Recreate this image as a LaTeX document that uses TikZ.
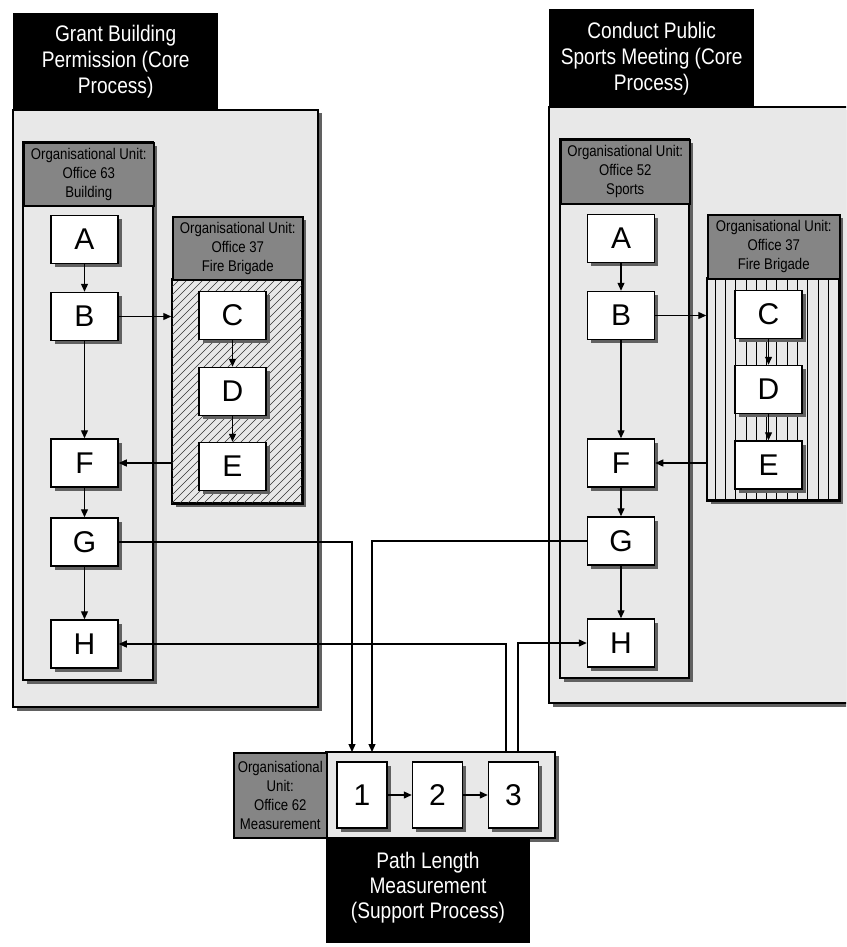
\documentclass[tikz,border=0pt]{standalone}
\usepackage{fontspec}
\setmainfont{Liberation Sans}
\newfontfamily\narrowf[FakeStretch=0.85]{Liberation Sans}
\usetikzlibrary{arrows.meta,shadows}
\definecolor{panelgray}{gray}{0.91}
\definecolor{unitgray}{gray}{0.52}
\definecolor{shadowgray}{gray}{0.38}
\tikzset{
  shd/.style={drop shadow={shadow xshift=3.5pt,shadow yshift=-3.5pt,fill=shadowgray,opacity=1}},
  panelbox/.style={draw=black,line width=1.6pt,fill=panelgray,shd},
  hdrbox/.style={fill=black,text=white,align=center,inner sep=0pt,anchor=north west,
    font=\narrowf\fontsize{22.5}{26}\selectfont},
  unithdr/.style={draw=black,line width=1.5pt,fill=unitgray,align=center,inner sep=0pt,
    anchor=north west,font=\narrowf\fontsize{15.5}{19}\selectfont},
  lanebox/.style={draw=black,line width=1.5pt,fill=panelgray,shd},
  procbox/.style={draw=black,line width=1.5pt,fill=white,minimum width=67pt,minimum height=48pt,
    inner sep=0pt,font=\fontsize{30}{30}\selectfont,shd},
  numbox/.style={draw=black,line width=1.5pt,fill=white,minimum width=50pt,minimum height=66pt,
    inner sep=0pt,font=\fontsize{30}{30}\selectfont,shd},
  areabox/.style={draw=black,line width=1.5pt,inner sep=0pt},
  hatchline/.style={black!80,line width=0.65pt},
  vline/.style={black,line width=0.8pt},
  conn/.style={line width=1.3pt,-{Triangle[length=8pt,width=7pt]}}
}
\begin{document}
\begin{tikzpicture}[x=1pt,y=-1pt]
\clip (0,0) rectangle (846,947);

% ---------------- Left panel ----------------
\path[panelbox] (13,110) rectangle (318,707);
\node[hdrbox,minimum width=205pt,minimum height=97pt] (hdrL) at (13,13)
  {Grant Building\\Permission (Core\\Process)};

% unit Office 63
\path[lanebox] (23,142) rectangle (153,680);
\node[unithdr,minimum width=130pt,minimum height=63pt] (uL) at (23,142)
  {Organisational Unit:\\Office 63\\Building};

% unit Office 37 (hatched)
\path[shd,fill=panelgray] (172,216) rectangle (302,503);
\node[areabox,fill=panelgray,minimum width=130pt,minimum height=224pt] (hL) at (237,391) {};
\begin{scope}
  \clip (hL.south west) rectangle (hL.north east);
  \foreach \s in {-232,-224,...,136} {
    \draw[hatchline] (172+\s,503) -- ++(240,-240);
  }
\end{scope}
\draw[line width=1.5pt] (hL.south west) rectangle (hL.north east);
\node[unithdr,minimum width=130pt,minimum height=63pt] (fL) at (172,216)
  {Organisational Unit:\\Office 37\\Fire Brigade};

\node[procbox] (Al) at (84.5,239.5) {A};
\node[procbox] (Bl) at (84.5,316.5) {B};
\node[procbox] (Fl) at (84.5,463) {F};
\node[procbox] (Gl) at (84.5,542) {G};
\node[procbox] (Hl) at (84.5,644) {H};
\node[procbox] (Cl) at (232.5,315.5) {C};
\node[procbox] (Dl) at (232.5,391.5) {D};
\node[procbox] (El) at (232.5,466.5) {E};

% ---------------- Right panel ----------------
\path[panelbox] (549,107) rectangle (880,703);
\node[hdrbox,minimum width=205pt,minimum height=98pt] (hdrR) at (549,9)
  {Conduct Public\\Sports Meeting (Core\\Process)};

\path[lanebox] (560,139) rectangle (689,678);
\node[unithdr,minimum width=129pt,minimum height=64pt] (uR) at (560,139)
  {Organisational Unit:\\Office 52\\Sports};

\path[shd,fill=panelgray] (707,214) rectangle (839,500);
\node[areabox,fill=panelgray,minimum width=132pt,minimum height=222pt] (hR) at (773,389) {};
\begin{scope}
  \clip (hR.south west) rectangle (hR.north east);
  \foreach \k in {0,...,11} {
    \draw[vline] (715+10.3*\k,278) -- (715+10.3*\k,500);
  }
\end{scope}
\draw[line width=1.5pt] (hR.south west) rectangle (hR.north east);
\node[unithdr,minimum width=132pt,minimum height=64pt] (fR) at (707,214)
  {Organisational Unit:\\Office 37\\Fire Brigade};

\node[procbox] (Ar) at (621,238.5) {A};
\node[procbox] (Br) at (621,315.5) {B};
\node[procbox] (Fr) at (621,463) {F};
\node[procbox] (Gr) at (621,541) {G};
\node[procbox] (Hr) at (621,643) {H};
\node[procbox] (Cr) at (768.5,314.5) {C};
\node[procbox] (Dr) at (768.5,389.5) {D};
\node[procbox] (Er) at (768.5,465) {E};

% ---------------- Measurement ----------------
\node[draw=black,line width=1.5pt,fill=panelgray,minimum width=229pt,minimum height=86pt,
  inner sep=0pt,shd] (mP) at (440.5,795) {};
\node[unithdr,minimum width=93pt,minimum height=85pt] (mU) at (233,752)
  {Organisational\\Unit:\\Office 62\\Measurement};
\node[fill=black,minimum width=204pt,minimum height=105pt,inner sep=0pt,anchor=north west] (mH) at (326,838) {};
\node[text=white,align=center,font=\narrowf\fontsize{22.5}{25}\selectfont] (mHt) at (428,888)
  {Path Length\\Measurement\\(Support Process)};

\node[numbox] (n1) at (362,795) {1};
\node[numbox] (n2) at (437.5,795) {2};
\node[numbox] (n3) at (513.5,795) {3};

\coordinate (mIn1) at (352,752);
\coordinate (mIn2) at (372,752);
\coordinate (mOut1) at (506,752);
\coordinate (mOut2) at (518,752);

% ---------------- Connectors ----------------
\draw[conn] (Al) -- (Bl);
\draw[conn] (Bl) -- (Fl);
\draw[conn] (Fl) -- (Gl);
\draw[conn] (Gl) -- (Hl);
\draw[conn] (Cl) -- (Dl);
\draw[conn] (Dl) -- (El);
\draw[conn] (Bl.east) -- (Bl.east -| hL.west);
\draw[conn] (hL.west |- Fl.east) -- (Fl.east);

\draw[conn] (Ar) -- (Br);
\draw[conn] (Br) -- (Fr);
\draw[conn] (Fr) -- (Gr);
\draw[conn] (Gr) -- (Hr);
\draw[conn] (Cr) -- (Dr);
\draw[conn] (Dr) -- (Er);
\draw[conn] (Br.east) -- (Br.east -| hR.west);
\draw[conn] (hR.west |- Fr.east) -- (Fr.east);

\draw[conn] (n1) -- (n2);
\draw[conn] (n2) -- (n3);

\draw[conn] (Gl.east) -| (mIn1);
\draw[conn] (Gr.west) -| (mIn2);
\draw[conn] (mOut1) |- (Hl.east);
\draw[conn] (mOut2) |- (Hr.west);
\end{tikzpicture}
\end{document}
